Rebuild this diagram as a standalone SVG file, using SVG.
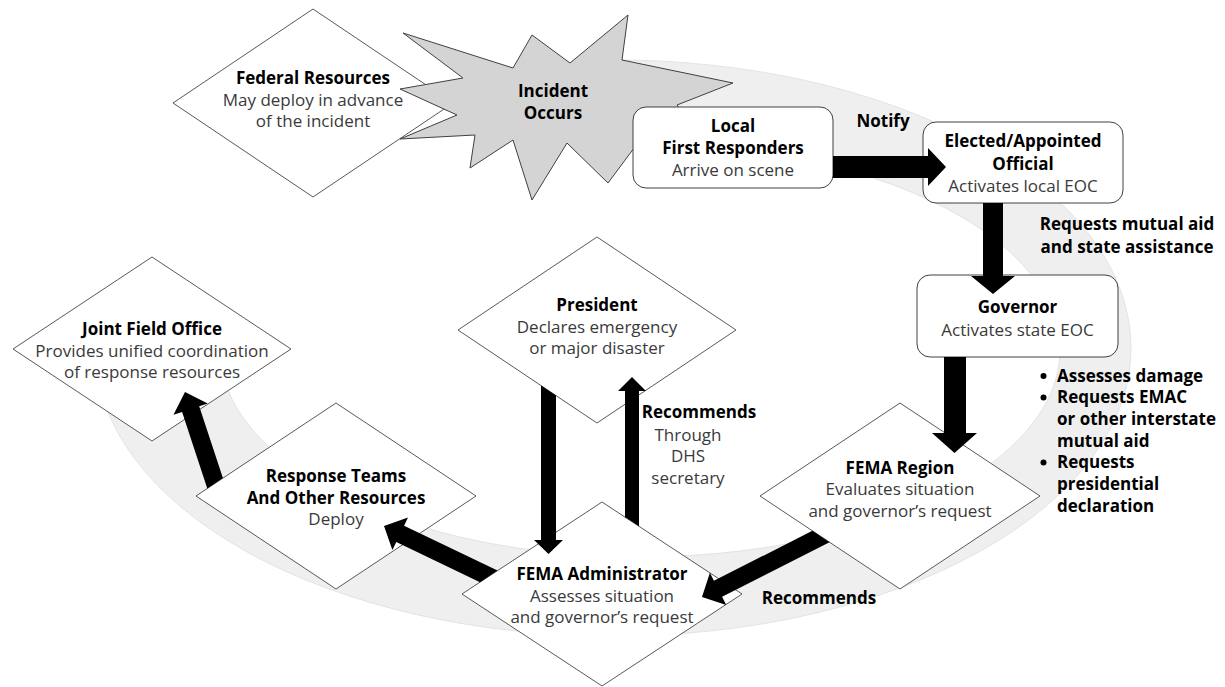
<svg xmlns="http://www.w3.org/2000/svg" width="1225" height="687" viewBox="0 0 1225 687">
<style>
  .b{font-family:"Open Sans","Liberation Sans",sans-serif;font-size:17px;font-weight:bold;fill:#000;text-anchor:middle}
  .r{font-family:"Open Sans","Liberation Sans",sans-serif;font-size:17px;fill:#3a3a3a;text-anchor:middle}
  .bl{font-family:"Open Sans","Liberation Sans",sans-serif;font-size:17px;font-weight:bold;fill:#000}
  .dia{fill:#fff;stroke:#595959;stroke-width:1}
  .box{fill:#fff;stroke:#404040;stroke-width:1}
  .arr{fill:#000}
</style>
<defs>
  <clipPath id="ringclip">
    <polygon points="640,350 560,0 1225,0 1225,687 0,687 0,340"/>
  </clipPath>
</defs>
<rect width="1225" height="687" fill="#fff"/>
<g id="ring" clip-path="url(#ringclip)">
  <path fill="#efefef" stroke="#e3e3e3" stroke-width="1" fill-rule="evenodd" d="M95,348 A518,288 0 1 0 1131,348 A518,288 0 1 0 95,348 Z M220,350 A420,207 0 1 0 1060,350 A420,207 0 1 0 220,350 Z"/>
</g>
<g id="federal-resources">
  <polygon class="dia" points="313,9 453,103 313,197 173,103"/>
  <text class="b" x="313" y="84">Federal Resources</text>
  <text class="r" x="313" y="106">May deploy in advance</text>
  <text class="r" x="313" y="127">of the incident</text>
</g>
<g id="incident">
  <polygon fill="#d4d4d4" stroke="#404040" stroke-width="1" points="403,33 513,68 532,35 570,63 628,15 622,60 733,83 677,105 700,135 640,140 608,183 567,143 532,200 513,140 470,168 475,135 400,139 457,115 400,89 463,78"/>
  <text class="b" x="553" y="97">Incident</text>
  <text class="b" x="553" y="119">Occurs</text>
</g>
<g id="local-first-responders">
  <rect class="box" x="633" y="107" width="200" height="81" rx="13"/>
  <text class="b" x="733" y="131.5">Local</text>
  <text class="b" x="733" y="153.5">First Responders</text>
  <text class="r" x="733" y="176">Arrive on scene</text>
</g>
<g id="elected-official">
  <rect class="box" x="923" y="122" width="200" height="81" rx="13"/>
  <text class="b" x="1023" y="147">Elected/Appointed</text>
  <text class="b" x="1023" y="169.5">Official</text>
  <text class="r" x="1023" y="192">Activates local EOC</text>
</g>
<g id="governor">
  <rect class="box" x="917" y="275" width="201" height="82" rx="13"/>
  <text class="b" x="1017.5" y="313">Governor</text>
  <text class="r" x="1017.5" y="335.5">Activates state EOC</text>
</g>
<g id="fema-region">
  <polygon class="dia" points="900,403 1040,496 900,589 760,496"/>
  <text class="b" x="900" y="473.5">FEMA Region</text>
  <text class="r" x="900" y="495">Evaluates situation</text>
  <text class="r" x="900" y="517">and governor’s request</text>
</g>
<g id="fema-administrator">
  <polygon class="dia" points="602,502 742,594 602,686 462,594"/>
  <text class="b" x="602" y="580">FEMA Administrator</text>
  <text class="r" x="602" y="601.5">Assesses situation</text>
  <text class="r" x="602" y="623">and governor’s request</text>
</g>
<g id="president">
  <polygon class="dia" points="597,237 736,330 597,423 458,330"/>
  <text class="b" x="597" y="311">President</text>
  <text class="r" x="597" y="333">Declares emergency</text>
  <text class="r" x="597" y="354">or major disaster</text>
</g>
<g id="response-teams">
  <polygon class="dia" points="336,403 476,496 336,589 196,496"/>
  <text class="b" x="336" y="481.5">Response Teams</text>
  <text class="b" x="336" y="503.5">And Other Resources</text>
  <text class="r" x="336" y="525">Deploy</text>
</g>
<g id="joint-field-office">
  <polygon class="dia" points="152,257 291,349 152,441 13,349"/>
  <text class="b" x="152" y="335">Joint Field Office</text>
  <text class="r" x="152" y="357">Provides unified coordination</text>
  <text class="r" x="152" y="378">of response resources</text>
</g>
<g id="connectors">
  <polygon class="arr" points="833,156 928,156 928,148 946,167 928,186 928,178 833,178"/>
  <polygon class="arr" points="983,203 983,276 971,276 993,294 1015,276 1003,276 1003,203"/>
  <polygon class="arr" points="944,357 944,433 932,433 954.5,453 977,433 966,433 966,357"/>
  <polygon class="arr" points="829.5,542.2 722.1,596.8 726.2,604.9 702,597 709.9,572.8 713.9,580.8 812.4,530.8"/>
  <polygon class="arr" points="541,385.5 541,540 534,540 548.5,554 563,540 556,540 556,395.6"/>
  <polygon class="arr" points="625,517.1 625,391 618,391 632,377 646,391 639,391 639,526.3"/>
  <polygon class="arr" points="497.5,570.6 404.1,525.7 408,517.6 384,526 392.4,550 396.3,541.9 480,582.2"/>
  <polygon class="arr" points="222.9,478.1 199.2,406.3 207.7,403.5 185,392 173.5,414.7 182.1,411.9 207.3,488.5"/>
</g>
<g id="labels">
  <text class="b" x="883" y="127">Notify</text>
  <text class="b" x="1127" y="230">Requests mutual aid</text>
  <text class="b" x="1127" y="253">and state assistance</text>
  <text class="b" x="699" y="418">Recommends</text>
  <text class="r" x="688" y="441">Through</text>
  <text class="r" x="688" y="462">DHS</text>
  <text class="r" x="688" y="483.5">secretary</text>
  <text class="b" x="819" y="604">Recommends</text>
</g>
<g id="bullets">
  <circle cx="1043.5" cy="376" r="3"/>
  <circle cx="1043.5" cy="397.5" r="3"/>
  <circle cx="1043.5" cy="462.5" r="3"/>
  <text class="bl" x="1057" y="381.7">Assesses damage</text>
  <text class="bl" x="1057" y="403.3">Requests EMAC</text>
  <text class="bl" x="1057" y="425">or other interstate</text>
  <text class="bl" x="1057" y="446.7">mutual aid</text>
  <text class="bl" x="1057" y="468.3">Requests</text>
  <text class="bl" x="1057" y="490">presidential</text>
  <text class="bl" x="1057" y="511.7">declaration</text>
</g>
</svg>
